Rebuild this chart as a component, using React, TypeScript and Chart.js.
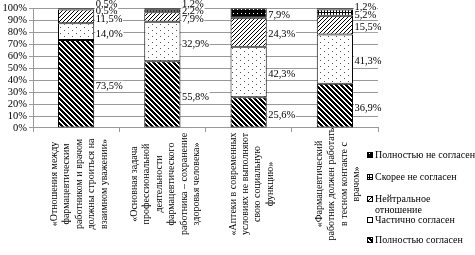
import React, { useEffect, useRef } from 'react';
import { Chart, registerables } from 'chart.js';

Chart.register(...registerables);

const categories: string[][] = [
  ['«Отношения между', 'фармацевтическим', 'работником и врачом', 'должны строиться на', 'взаимном уважении»'],
  ['«Основная задача', 'профессиональной', 'деятельности', 'фармацевтического', 'работника – сохранение', 'здоровья человека»'],
  ['«Аптеки в современных', 'условиях не выполняют', 'свою социальную', 'функцию»'],
  ['«Фармацевтический', 'работник должен работать', 'в тесном контакте с', 'врачом»'],
];

const seriesNames = [
  'Полностью согласен',
  'Частично согласен',
  'Нейтральное отношение',
  'Скорее не согласен',
  'Полностью не согласен',
];

const fullyAgree = [73.5, 55.8, 25.6, 36.9];
const partlyAgree = [14.0, 32.9, 42.3, 41.3];
const neutral = [11.5, 7.9, 24.3, 15.5];
const ratherDisagree = [0.5, 2.2, 0, 5.2];
const fullyDisagree = [0.5, 1.2, 7.9, 1.2];

const yMin = 0;
const yMax = 100;
const yStep = 10;

const FONT = '"Liberation Serif", "Times New Roman", serif';

function fmt(v: number) {
  return v.toFixed(1).replace('.', ',') + '%';
}

function makePattern(w: number, h: number, bg: string, fn: (x: number, y: number) => string | null) {
  const c = document.createElement('canvas');
  c.width = w;
  c.height = h;
  const g = c.getContext('2d')!;
  g.fillStyle = bg;
  g.fillRect(0, 0, w, h);
  for (let y = 0; y < h; y++) {
    for (let x = 0; x < w; x++) {
      const col = fn(x, y);
      if (col) {
        g.fillStyle = col;
        g.fillRect(x, y, 1, 1);
      }
    }
  }
  const ctx = document.createElement('canvas').getContext('2d')!;
  return ctx.createPattern(c, 'repeat')!;
}

export default function App() {
  const ref = useRef<HTMLCanvasElement | null>(null);

  useEffect(() => {
    const canvas = ref.current!;
    const patterns = [
      makePattern(5, 5, '#fff', (x, y) => ((x - y + 10) % 5 < 3 ? '#000' : null)),
      makePattern(8, 6, '#fff', (x, y) => ((x === 0 && y === 0) || (x === 4 && y === 3) ? '#555' : null)),
      makePattern(4, 4, '#fff', (x, y) => ((x + y) % 4 === 0 ? '#000' : null)),
      makePattern(3, 3, '#fff', (x, y) => (x === 0 || y === 0 ? '#000' : null)),
      makePattern(4, 4, '#000', (x, y) => ((x === 1 && y === 1) ? '#fff' : null)),
    ];
    const series = [fullyAgree, partlyAgree, neutral, ratherDisagree, fullyDisagree];

    const valueLabels = {
      id: 'valueLabels',
      afterDatasetsDraw(chart: any) {
        const ctx = chart.ctx as CanvasRenderingContext2D;
        ctx.save();
        ctx.font = `10.5px ${FONT}`;
        const items: { x: number; y: number; t: string; w: number }[] = [];
        const n = chart.data.labels.length;
        for (let i = 0; i < n; i++) {
          let prevY = Infinity;
          chart.data.datasets.forEach((ds: any, di: number) => {
            const v = ds.data[i];
            if (!v) return;
            const el = chart.getDatasetMeta(di).data[i];
            const center = (el.y + el.base) / 2;
            let y = Math.min(center + 2, prevY - 8);
            y = Math.max(y, 4);
            prevY = y;
            const t = fmt(v);
            const w = ctx.measureText(t).width;
            items.push({ x: el.x + el.width / 2 + 1, y, t, w });
          });
        }
        ctx.fillStyle = '#fff';
        items.forEach((it) => ctx.fillRect(it.x, it.y - 5, it.w + 1, 10));
        ctx.fillStyle = '#000';
        ctx.textAlign = 'left';
        ctx.textBaseline = 'middle';
        items.forEach((it) => ctx.fillText(it.t, it.x + 0.5, it.y + 0.5));
        ctx.restore();
      },
    };

    const catLabels = {
      id: 'catLabels',
      afterDraw(chart: any) {
        const ctx = chart.ctx as CanvasRenderingContext2D;
        const xs = chart.scales.x;
        ctx.save();
        ctx.font = `10px ${FONT}`;
        ctx.fillStyle = '#000';
        ctx.textAlign = 'center';
        ctx.textBaseline = 'middle';
        const lh = 12.4;
        categories.forEach((lines, i) => {
          const cx = xs.getPixelForValue(i) + 3;
          const cy = xs.top + 56;
          lines.forEach((line, j) => {
            const x = cx + (j - (lines.length - 1) / 2) * lh;
            ctx.save();
            ctx.translate(x, cy);
            ctx.rotate(-Math.PI / 2);
            ctx.fillText(line, 0, 0);
            ctx.restore();
          });
        });
        ctx.restore();
      },
    };

    const legendDraw = {
      id: 'legendDraw',
      afterDraw(chart: any) {
        const ctx = chart.ctx as CanvasRenderingContext2D;
        ctx.save();
        ctx.font = `10px ${FONT}`;
        ctx.textAlign = 'left';
        ctx.textBaseline = 'middle';
        const lx = 367;
        const ys = [155, 177, 199, 220, 240];
        const order = [4, 3, 2, 1, 0];
        order.forEach((di, k) => {
          const y = ys[k];
          ctx.fillStyle = patterns[di] as any;
          ctx.fillRect(lx, y - 3, 6, 6);
          ctx.strokeStyle = '#000';
          ctx.lineWidth = 1;
          ctx.strokeRect(lx + 0.5, y - 2.5, 5, 5);
          ctx.fillStyle = '#000';
          const name = seriesNames[di];
          if (name === 'Нейтральное отношение') {
            ctx.fillText('Нейтральное', lx + 8, y);
            ctx.fillText('отношение', lx + 8, y + 11);
          } else {
            ctx.fillText(name, lx + 8, y);
          }
        });
        ctx.restore();
      },
    };

    const chart = new Chart(canvas, {
      type: 'bar',
      data: {
        labels: categories.map((c) => c.join(' ')),
        datasets: series.map((d, i) => ({
          label: seriesNames[i],
          data: d,
          backgroundColor: patterns[i] as any,
          borderColor: '#000',
          borderWidth: 1,
          borderSkipped: false,
          barPercentage: 0.42,
          categoryPercentage: 1,
        })),
      },
      options: {
        animation: false,
        responsive: false,
        devicePixelRatio: 1,
        layout: { padding: { top: 7, right: 97, left: 0, bottom: 0 } },
        plugins: { legend: { display: false }, tooltip: { enabled: false } },
        scales: {
          x: {
            stacked: true,
            afterFit: (s: any) => {
              s.height = 127;
            },
            ticks: { display: false },
            grid: { display: true, drawOnChartArea: false, drawTicks: true, tickLength: 4, color: '#999', offset: true },
            border: { display: true, color: '#999' },
          },
          y: {
            stacked: true,
            min: yMin,
            max: yMax,
            afterFit: (s: any) => {
              s.width = 33;
            },
            ticks: {
              stepSize: yStep,
              autoSkip: false,
              color: '#000',
              padding: 2,
              font: { family: FONT, size: 10.5 },
              callback: (v: any) => v + '%',
            },
            grid: { color: '#999', tickLength: 4, drawTicks: true },
            border: { display: true, color: '#999' },
          },
        },
      },
      plugins: [valueLabels, catLabels, legendDraw],
    });
    return () => chart.destroy();
  }, []);

  return (
    <div style={{ position: 'fixed', left: 0, top: 0, width: 475, height: 255, background: '#fff' }}>
      <canvas ref={ref} width={475} height={255} style={{ width: 475, height: 255 }} />
    </div>
  );
}
